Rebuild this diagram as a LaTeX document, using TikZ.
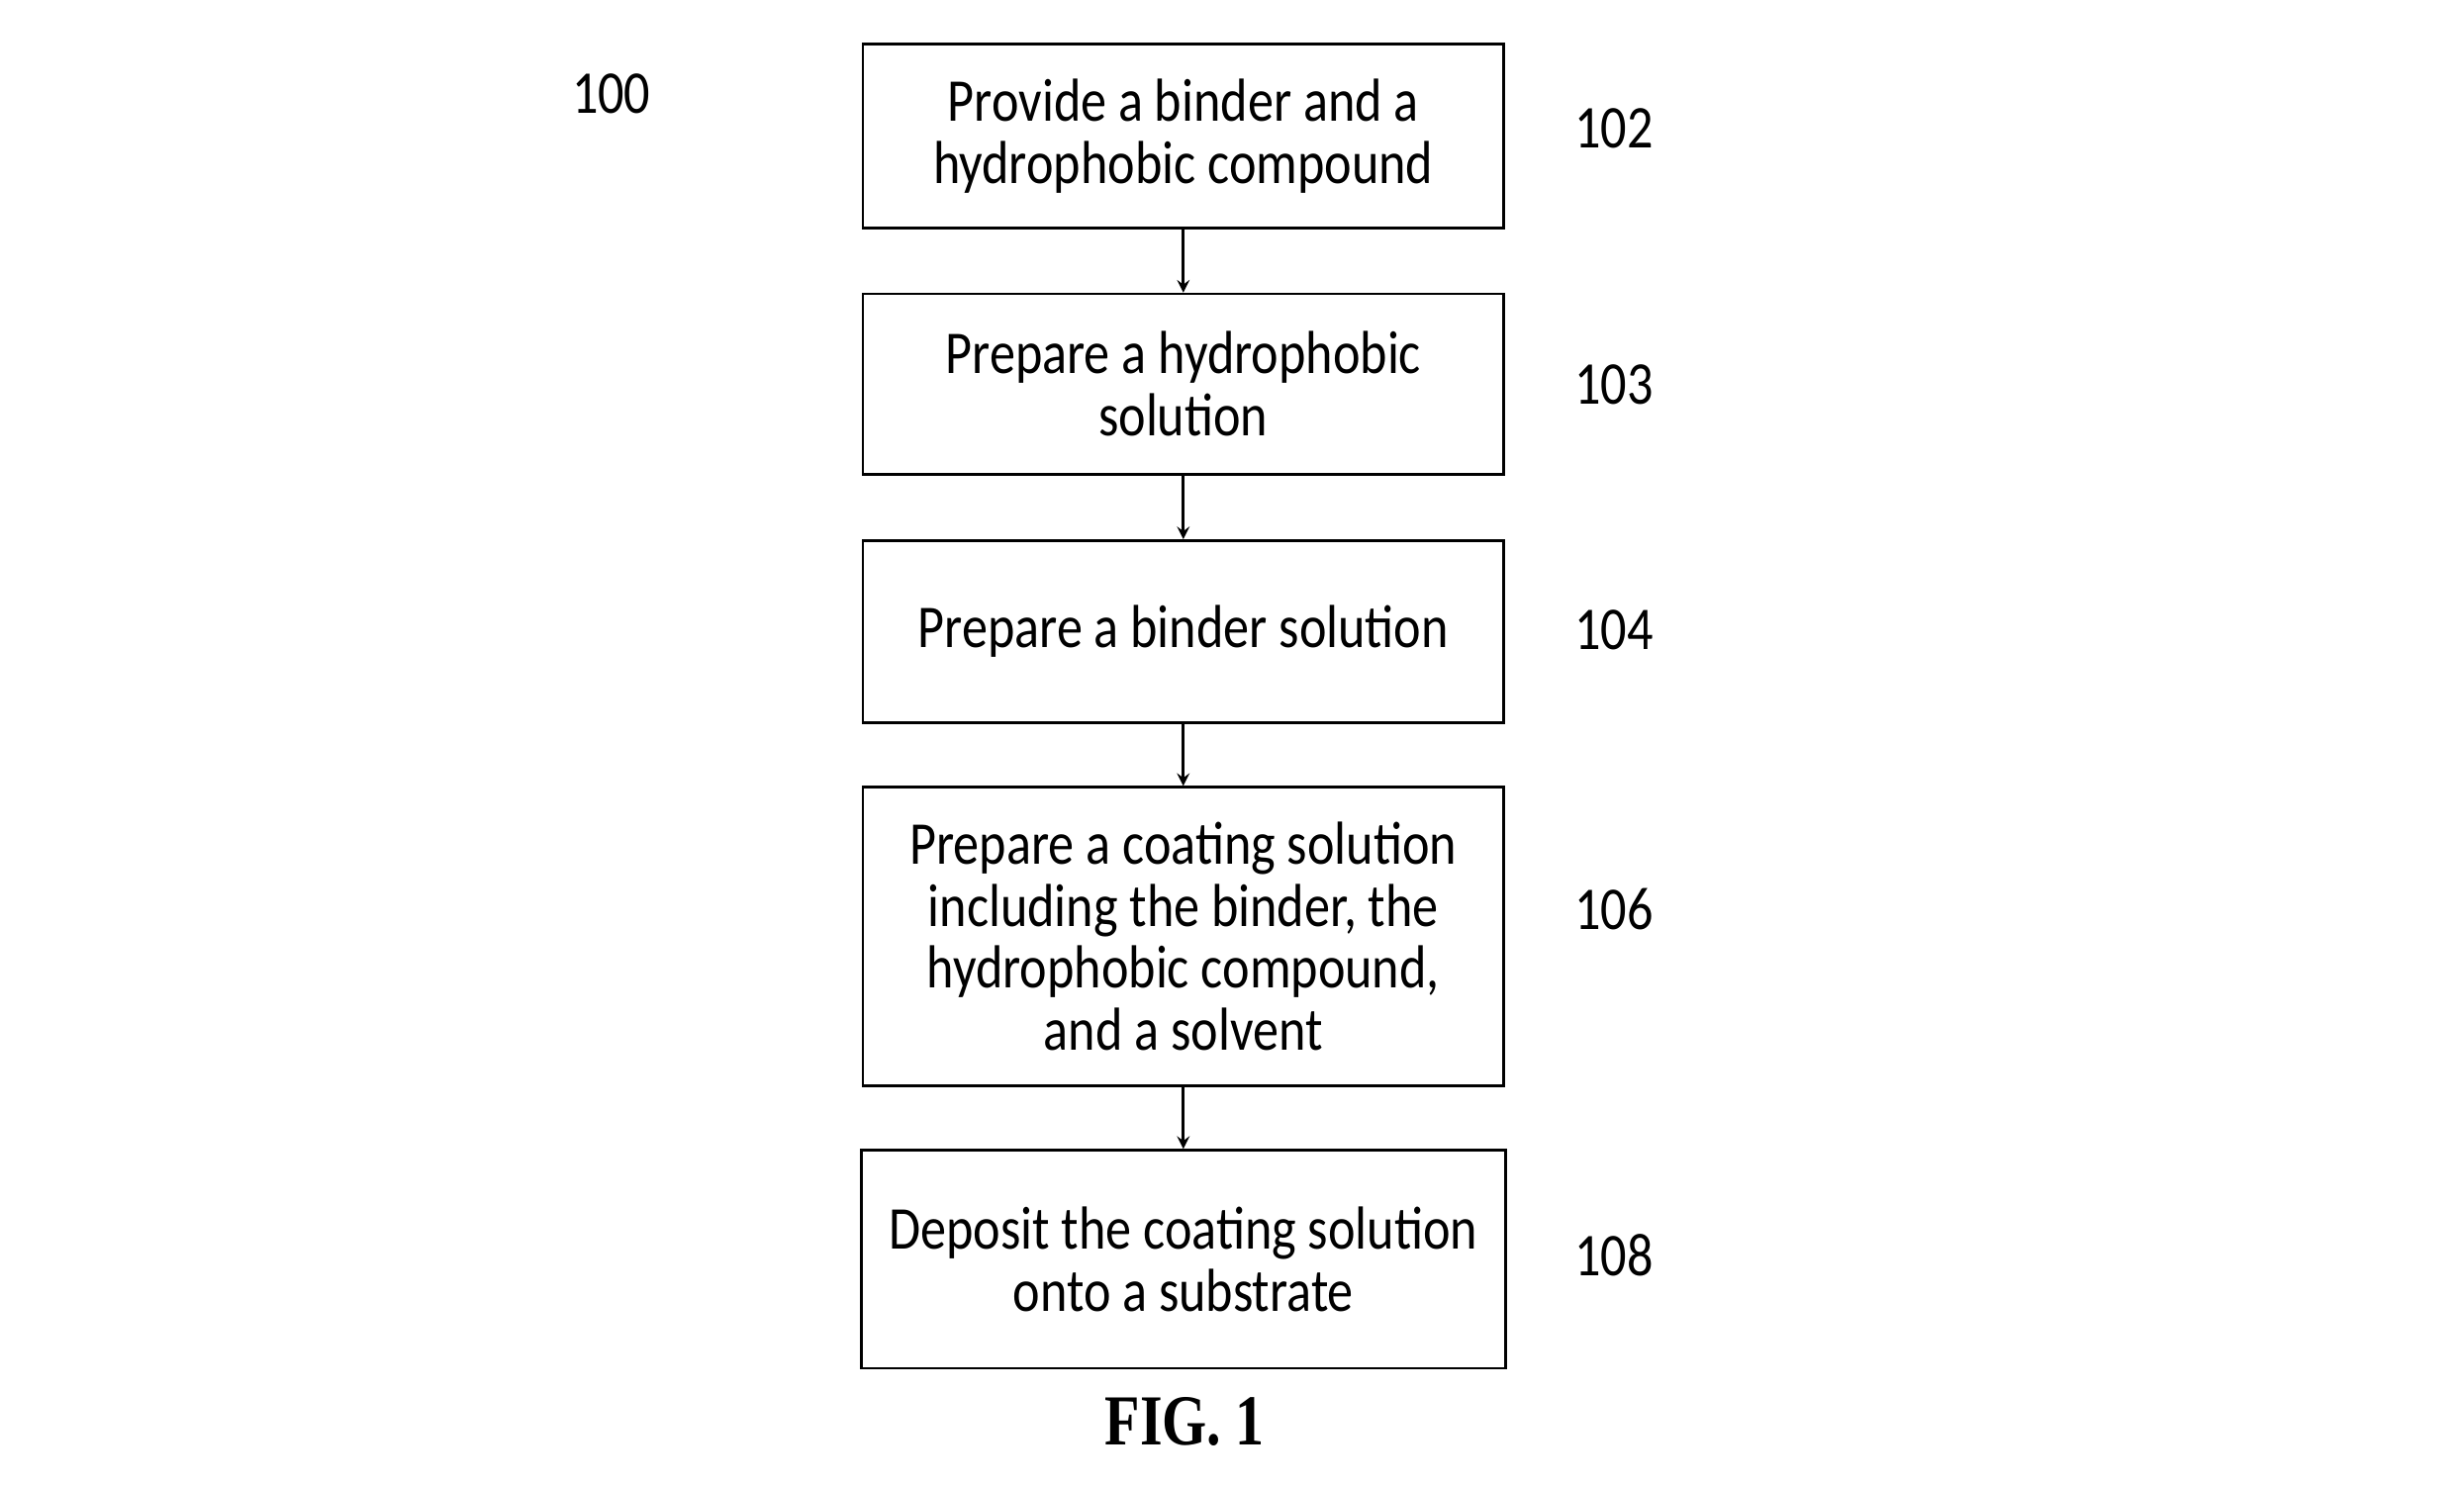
\documentclass[tikz,border=0pt]{standalone}
\usepackage{fontspec}
\usepackage{tikz}
\usetikzlibrary{arrows,positioning}
\newfontfamily\stepfont[FakeStretch=0.85]{Carlito}
\newfontfamily\figfont[FakeStretch=0.8]{Liberation Serif}
\tikzstyle{stepbox} = [rectangle, draw, line width=0.9pt, inner sep=0pt, minimum width=8.16cm, align=center, font=\stepfont\fontsize{22}{22.5}\selectfont]
\tikzstyle{reflabel} = [font=\stepfont\fontsize{22}{22.5}\selectfont]
\tikzstyle{arrow} = [line width=1pt,->,>=stealth]

\begin{document}
\begin{tikzpicture}
    \useasboundingbox (0,0) rectangle (31.36,-18.9);
    % flow steps
    \node[stepbox, minimum height=2.34cm] (s102) at (15.06,-1.73) {Provide a binder and a\\hydrophobic compound};
    \node[stepbox, minimum height=2.30cm] (s103) at (15.06,-4.89) {Prepare a hydrophobic\\solution};
    \node[stepbox, minimum height=2.32cm] (s104) at (15.06,-8.04) {Prepare a binder solution};
    \node[stepbox, minimum height=3.80cm] (s106) at (15.06,-11.92) {Prepare a coating solution\\including the binder, the\\hydrophobic compound,\\and a solvent};
    \node[stepbox, minimum width=8.20cm, minimum height=2.78cm] (s108) at (15.06,-16.03) {Deposit the coating solution\\onto a substrate};
    \foreach \a/\b in {s102/s103, s103/s104, s104/s106, s106/s108} {
        \draw[arrow] (\a.south) -- (\b.north);
    }
    % reference numerals
    \node[reflabel] (l100) at (7.78,-1.20) {100};
    \node[reflabel] (l102) at (20.54,-1.64) {102};
    \node[reflabel] (l103) at (20.54,-4.90) {103};
    \node[reflabel] (l104) at (20.54,-8.02) {104};
    \node[reflabel] (l106) at (20.54,-11.58) {106};
    \node[reflabel] (l108) at (20.54,-15.98) {108};
    \node[font=\figfont\bfseries\fontsize{26}{30}\selectfont] (fig) at (15.08,-18.10) {FIG. 1};
\end{tikzpicture}
\end{document}
